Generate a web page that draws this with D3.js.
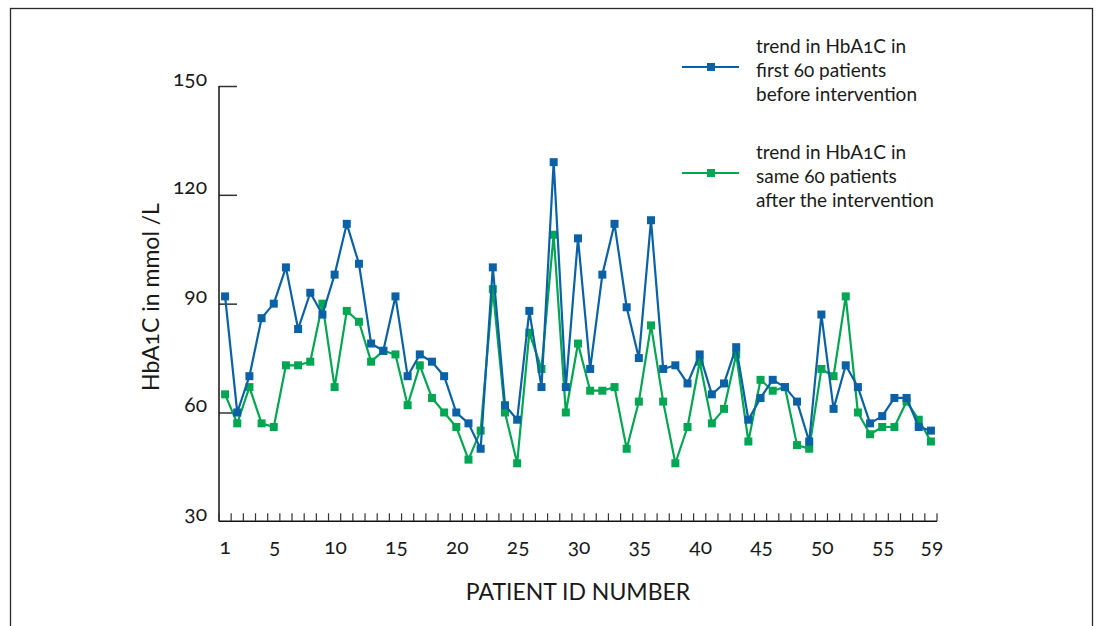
<!DOCTYPE html>
<html>
<head>
<meta charset="utf-8">
<script src="https://cdn.jsdelivr.net/npm/d3@7"></script>
<style>
  html, body { margin: 0; padding: 0; background: #fff; }
  svg text { font-family: Lato, "Open Sans", sans-serif; fill: #1a1a1a; font-variant-numeric: oldstyle-nums; }
</style>
</head>
<body>
<svg id="chart" width="1100" height="626"></svg>
<script>
const patients = d3.range(1, 60);
const before = [92,60,70,86,90,100,83,93,87,98,112,101,79,77,92,70,76,74,70,60,57,50,100,62,58,88,67,129,67,108,72,98,112,89,75,113,72,73,68,76,65,68,78,58,64,69,67,63,52,87,61,73,67,57,59,64,64,56,55];
const after  = [65,57,67,57,56,73,73,74,90,67,88,85,74,77,76,62,73,64,60,56,47,55,94,60,46,82,72,109,60,79,66,66,67,50,63,84,63,46,56,74,57,61,76,52,69,66,67,51,50,72,70,92,60,54,56,56,63,58,52];
const yTicks = [30, 60, 90, 120, 150];
const xTickLabels = [1, 5, 10, 15, 20, 25, 30, 35, 40, 45, 50, 55, 59];
const seriesNames = ["before", "after"];
const legendLines = [
  ["trend in HbA1C in", "first 60 patients", "before intervention"],
  ["trend in HbA1C in", "same 60 patients", "after the intervention"]
];
const colors = { before: "#0a61a6", after: "#00a651" };

const svg = d3.select("#chart");

// frame
svg.append("rect").attr("x", 10.5).attr("y", 8.5).attr("width", 1082).attr("height", 640)
  .attr("fill", "none").attr("stroke", "#2a2a2a").attr("stroke-width", 1.3);

const x = d3.scaleBand().domain(patients).range([219, 937]).padding(0);
const y = d3.scaleLinear().domain([30, 150]).range([521.3, 86]);

const axisColor = "#333";
const g = svg.append("g");

// y axis
const yAxis = d3.axisRight(y).tickValues(yTicks.slice(1)).tickSize(18).tickFormat("");
const gy = g.append("g").attr("transform", "translate(219,0)").call(yAxis);
gy.select(".domain").remove();
gy.selectAll(".tick line").attr("stroke", axisColor).attr("stroke-width", 1.5);
g.append("line").attr("x1", 219).attr("x2", 219).attr("y1", y(150)).attr("y2", y(30))
  .attr("stroke", "#111").attr("stroke-width", 1.5);

// y labels
g.selectAll(".ylab").data(yTicks).join("text")
  .attr("class", "ylab")
  .attr("x", 207).attr("y", d => y(d) - 9)
  .attr("text-anchor", "end").attr("dominant-baseline", "central")
  .attr("font-size", 21).text(d => d);

// x axis baseline & band ticks
g.append("line").attr("x1", 219).attr("x2", 937).attr("y1", y(30)).attr("y2", y(30))
  .attr("stroke", "#111").attr("stroke-width", 1.5);
const boundaries = patients.map(p => x(p)).concat([x(59) + x.bandwidth()]);
g.selectAll(".xt").data(boundaries).join("line")
  .attr("class", "xt")
  .attr("x1", d => d).attr("x2", d => d)
  .attr("y1", y(30)).attr("y2", y(30) - 8)
  .attr("stroke", axisColor).attr("stroke-width", 1.2);

g.selectAll(".xlab").data(xTickLabels).join("text")
  .attr("class", "xlab")
  .attr("x", d => x(d) + x.bandwidth() / 2 + (d === 1 ? 0 : 1))
  .attr("y", 545)
  .attr("text-anchor", "middle").attr("dominant-baseline", "central")
  .attr("font-size", 21).text(d => d);

// axis titles
g.append("text").attr("x", 578).attr("y", 591).attr("text-anchor", "middle")
  .attr("dominant-baseline", "central").attr("font-size", 23).text("PATIENT ID NUMBER");
g.append("text").attr("transform", "translate(150,297) rotate(-90)")
  .attr("text-anchor", "middle").attr("dominant-baseline", "central")
  .attr("font-size", 23).text("HbA1C in mmol /L");

// series
const data = { before, after };
const line = d3.line().x((d, i) => x(patients[i]) + x.bandwidth() / 2).y(d => y(d));
seriesNames.slice().reverse().forEach(name => {
  const vals = data[name];
  g.append("path").datum(vals).attr("d", line)
    .attr("fill", "none").attr("stroke", colors[name]).attr("stroke-width", 2.2)
    .attr("stroke-linejoin", "round");
  g.selectAll(".m-" + name).data(vals).join("rect")
    .attr("class", "m-" + name)
    .attr("x", (d, i) => x(patients[i]) + x.bandwidth() / 2 - 4)
    .attr("y", d => y(d) - 4)
    .attr("width", 8).attr("height", 8)
    .attr("fill", colors[name]);
});

// legend
const legendY = [67, 173];
seriesNames.forEach((name, k) => {
  const ly = legendY[k];
  svg.append("line").attr("x1", 682).attr("x2", 739).attr("y1", ly).attr("y2", ly)
    .attr("stroke", colors[name]).attr("stroke-width", 2.2);
  svg.append("rect").attr("x", 707).attr("y", ly - 4).attr("width", 8).attr("height", 8)
    .attr("fill", colors[name]);
  legendLines[k].forEach((t, j) => {
    svg.append("text").attr("x", 756).attr("y", ly - 22 + j * 24)
      .attr("dominant-baseline", "central").attr("font-size", 19).text(t);
  });
});
</script>
</body>
</html>
